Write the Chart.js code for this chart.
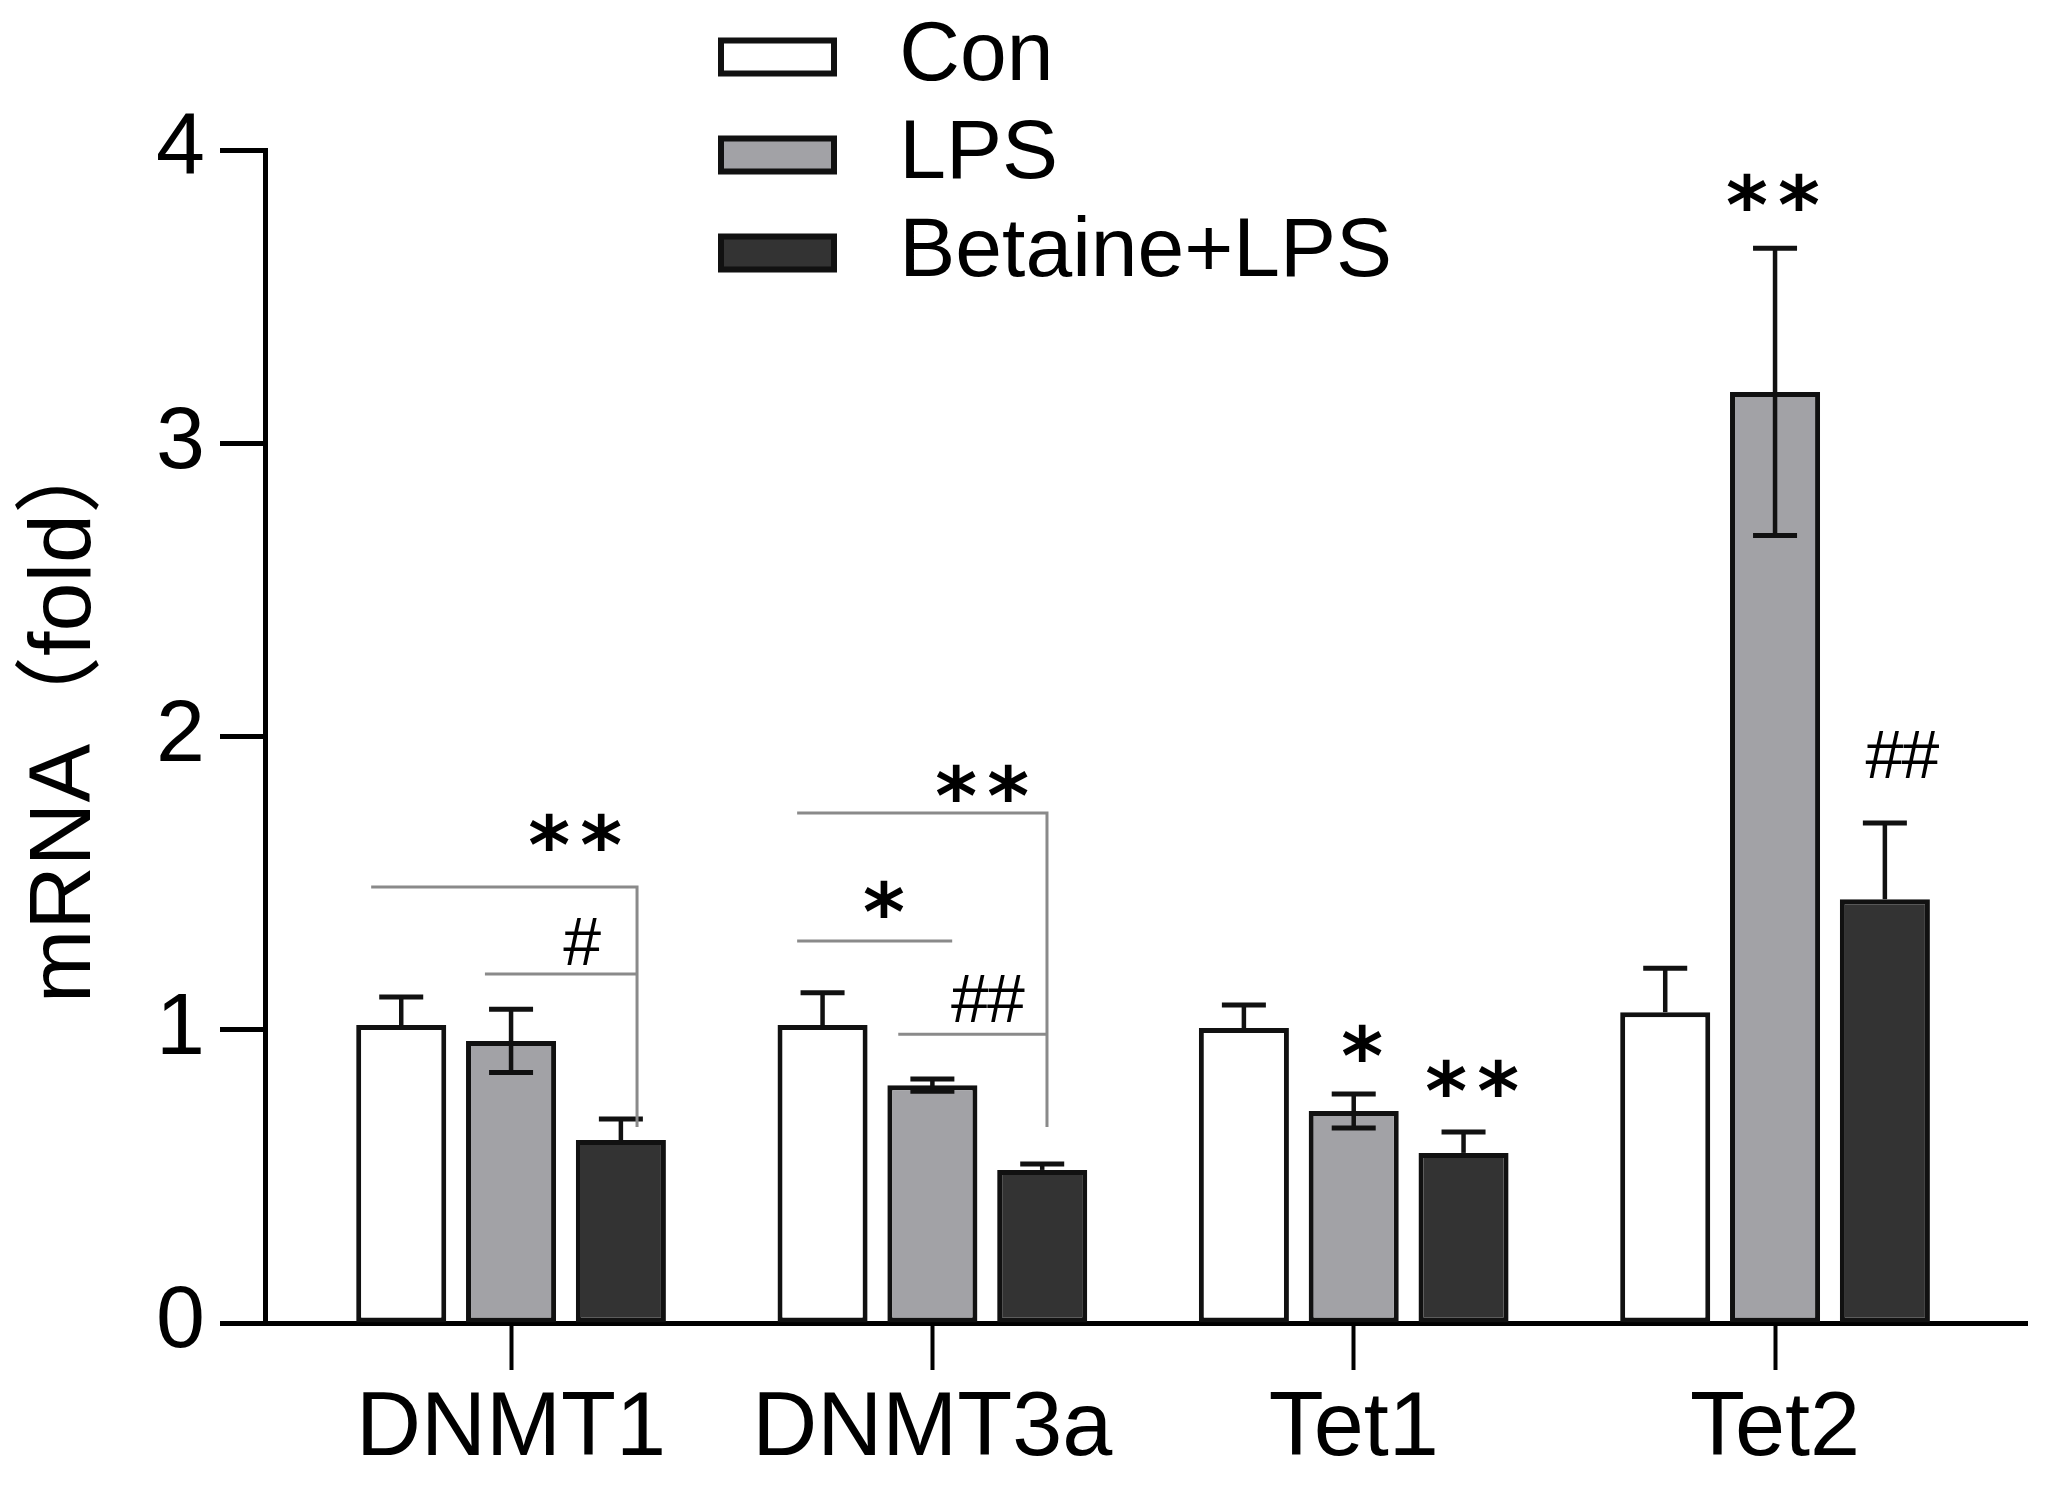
<!DOCTYPE html>
<html>
<head>
<meta charset="utf-8">
<script src="https://cdn.jsdelivr.net/npm/chart.js@4.4.1/dist/chart.umd.min.js"></script>
<style>
  html, body { margin: 0; padding: 0; background: #fff; }
  canvas { display: block; }
</style>
</head>
<body>
<canvas id="chart" width="2050" height="1489"></canvas>
<script>
var genes = ['DNMT1', 'DNMT3a', 'Tet1', 'Tet2'];
var groups = ['Con', 'LPS', 'Betaine+LPS'];
var conMean = [1.016, 1.016, 1.006, 1.06];
var conErr = [0.096, 0.11, 0.078, 0.15];
var lpsMean = [0.962, 0.811, 0.723, 3.175];
var lpsErr = [0.108, 0.021, 0.058, 0.49];
var betMean = [0.624, 0.522, 0.58, 1.445];
var betErr = [0.072, 0.02, 0.071, 0.26];
var yTicks = [0, 1, 2, 3, 4];

// significance marks (x in gene units, y in fold)
var sigText = ['**', '#', '**', '*', '##', '*', '**', '**', '##'];
var sigX = [0.152, 0.169, 1.118, 0.885, 1.132, 2.02, 2.281, 2.995, 3.302];
var sigY = [1.674, 1.30, 1.841, 1.446, 1.105, 0.955, 0.835, 3.857, 1.94];
// comparison brackets, same units
var brackets = [
  [[-0.332, 1.487], [0.299, 1.487], [0.299, 0.668]],
  [[-0.062, 1.19], [0.299, 1.19]],
  [[0.679, 1.739], [1.272, 1.739], [1.272, 0.668]],
  [[0.679, 1.303], [1.047, 1.303]],
  [[0.919, 0.985], [1.272, 0.985]]
];

var FONT = "'Liberation Sans', Arial, 'Noto Sans CJK SC', sans-serif";
var means = [conMean, lpsMean, betMean];
var errs = [conErr, lpsErr, betErr];
var fills = ['#ffffff', '#a2a2a6', '#333333'];
var errBoth = [false, true, false];

function toPoints(arr) {
    return arr.map(function(v, i) { return { x: i, y: v }; });
}

var extras = {
    id: 'extras',
    afterLayout: function(chart) {
        // park the vertical legend above the plot, like the original
        var lg = chart.legend;
        lg.left = 707;
        lg.top = 1;
        lg.right = lg.left + 800;
        lg.bottom = lg.top + 340;
    },
    afterDatasetsDraw: function(chart) {
        var ctx = chart.ctx;
        var xs = chart.scales.x, ys = chart.scales.y;
        var unit = xs.getPixelForValue(1) - xs.getPixelForValue(0);

        ctx.save();
        ctx.strokeStyle = '#111';
        ctx.lineCap = 'butt';
        chart.data.datasets.forEach(function(ds, i) {
            var meta = chart.getDatasetMeta(i);
            meta.data.forEach(function(bar, j) {
                var m = means[i][j], e = errs[i][j];
                var top = ys.getPixelForValue(m + e);
                var bot = ys.getPixelForValue(errBoth[i] ? m - e : m);
                ctx.lineWidth = 4.5;
                ctx.beginPath();
                ctx.moveTo(bar.x, top);
                ctx.lineTo(bar.x, bot);
                ctx.stroke();
                ctx.lineWidth = 5;
                ctx.beginPath();
                ctx.moveTo(bar.x - 22, top);
                ctx.lineTo(bar.x + 22, top);
                if (errBoth[i]) {
                    ctx.moveTo(bar.x - 22, bot);
                    ctx.lineTo(bar.x + 22, bot);
                }
                ctx.stroke();
            });
        });

        ctx.strokeStyle = '#8a8a8a';
        ctx.lineWidth = 3;
        brackets.forEach(function(pts) {
            ctx.beginPath();
            pts.forEach(function(p, k) {
                var px = xs.getPixelForValue(0) + p[0] * unit;
                var py = ys.getPixelForValue(p[1]);
                if (k === 0) ctx.moveTo(px, py); else ctx.lineTo(px, py);
            });
            ctx.stroke();
        });

        ctx.fillStyle = '#000';
        ctx.textAlign = 'center';
        ctx.textBaseline = 'alphabetic';
        sigText.forEach(function(t, k) {
            var star = t.charAt(0) === '*';
            ctx.font = star ? "bold 80px 'DejaVu Sans'" : '68px ' + FONT;
            var step = star ? 52 : 36;
            var cx = xs.getPixelForValue(0) + sigX[k] * unit;
            var cy = ys.getPixelForValue(sigY[k]);
            var m = ctx.measureText(t.charAt(0));
            var base = cy + (m.actualBoundingBoxAscent - m.actualBoundingBoxDescent) / 2;
            for (var c = 0; c < t.length; c++) {
                ctx.fillText(t.charAt(c), cx + (c - (t.length - 1) / 2) * step, base);
            }
        });
        ctx.restore();
    }
};

new Chart(document.getElementById('chart'), {
    type: 'bar',
    data: {
        datasets: groups.map(function(g, i) {
            return {
                label: g,
                data: toPoints(means[i]),
                backgroundColor: fills[i],
                borderColor: '#111',
                borderWidth: 5,
                borderSkipped: false
            };
        })
    },
    options: {
        responsive: false,
        devicePixelRatio: 1,
        animation: false,
        layout: { padding: { top: 150, right: 23, left: 0, bottom: 0 } },
        datasets: {
            bar: { categoryPercentage: 0.782, barPercentage: 0.82 }
        },
        scales: {
            x: {
                type: 'linear',
                min: -0.584,
                max: 3.598,
                offset: false,
                ticks: {
                    stepSize: 1,
                    includeBounds: false,
                    autoSkip: false,
                    maxRotation: 0,
                    padding: 6,
                    color: '#000',
                    font: { family: FONT, size: 90 },
                    callback: function(v) { return genes[Math.round(v)]; }
                },
                grid: { offset: false, drawOnChartArea: false, drawTicks: true, tickLength: 47, tickWidth: 4, tickColor: '#000' },
                border: { display: true, color: '#000', width: 5 },
                afterFit: function(s) { s.height = 166; }
            },
            y: {
                min: 0,
                max: 4,
                afterBuildTicks: function(s) {
                    s.ticks = yTicks.map(function(v) { return { value: v }; });
                },
                ticks: { padding: 15, color: '#000', font: { family: FONT, size: 88 } },
                grid: { drawOnChartArea: false, tickLength: 45, tickWidth: 5, tickColor: '#000' },
                border: { color: '#000', width: 5 },
                title: {
                    display: true,
                    text: '\u2002mRNA（fold）',
                    color: '#000',
                    font: { family: FONT, size: 88 },
                    padding: { top: 13, bottom: 0 }
                },
                afterFit: function(s) { s.width = 265; }
            }
        },
        plugins: {
            tooltip: { enabled: false },
            legend: {
                position: 'chartArea',
                align: 'start',
                labels: {
                    boxWidth: 113,
                    boxHeight: 33,
                    padding: 14,
                    color: '#000',
                    font: { family: FONT, size: 84 },
                    generateLabels: function(chart) {
                        var items = Chart.defaults.plugins.legend.labels.generateLabels(chart);
                        items.forEach(function(it) { it.text = ' ' + it.text; it.lineWidth = 6; });
                        return items;
                    }
                }
            }
        }
    },
    plugins: [extras]
});
</script>
</body>
</html>
